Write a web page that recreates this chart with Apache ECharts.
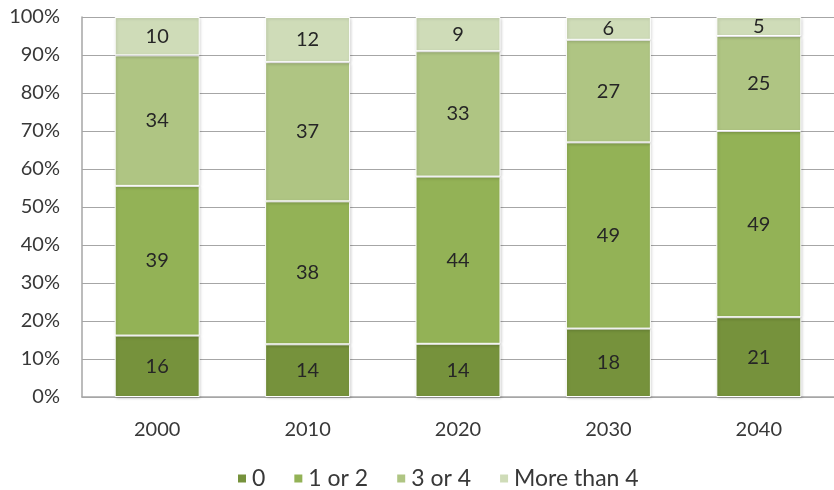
<!DOCTYPE html>
<html>
<head>
<meta charset="utf-8">
<script src="https://cdn.jsdelivr.net/npm/echarts@6/dist/echarts.min.js"></script>
<style>
  html, body { margin: 0; padding: 0; background: #fff; }
  #chart { width: 834px; height: 490px; }
</style>
</head>
<body>
<div id="chart"></div>
<script>
// Household size groups per decade (shares, shown as 100% stacked bars)
const years = ['2000', '2010', '2020', '2030', '2040'];
const seriesNames = ['0', '1 or 2', '3 or 4', 'More than 4'];
const zero = [16, 14, 14, 18, 21];
const oneOrTwo = [39, 38, 44, 49, 49];
const threeOrFour = [34, 37, 33, 27, 25];
const moreThanFour = [10, 12, 9, 6, 5];
const yTicks = ['0%', '10%', '20%', '30%', '40%', '50%', '60%', '70%', '80%', '90%', '100%'];

const colors = ['#76923c', '#93b256', '#afc583', '#cfdcb8'];
const raw = [zero, oneOrTwo, threeOrFour, moreThanFour];

// Column totals for normalising each bar to 100%
const totals = years.map((_, i) => raw.reduce((s, arr) => s + arr[i], 0));

const font = 'Lato, "Open Sans", sans-serif';
const textColor = '#383838';

const series = raw.map((arr, k) => ({
  name: seriesNames[k],
  type: 'bar',
  stack: 'share',
  barWidth: 85,
  data: arr.map((v, i) => ({ value: v / totals[i] * 100, raw: v })),
  itemStyle: {
    color: colors[k],
    borderColor: '#ffffff',
    borderWidth: 1,
    shadowColor: 'rgba(0,0,0,0.18)',
    shadowBlur: 3,
    shadowOffsetX: 1,
    shadowOffsetY: 1
  },
  label: {
    show: true,
    position: 'inside',
    color: '#262626',
    fontFamily: font,
    fontSize: 20,
    formatter: p => String(p.data.raw)
  }
}));

const chart = echarts.init(document.getElementById('chart'));
chart.setOption({
  animation: false,
  color: colors,
  grid: { left: 82, right: -3, top: 17, bottom: 93, containLabel: false },
  legend: {
    bottom: -5,
    left: 231,
    itemWidth: 10,
    itemHeight: 10,
    itemGap: 27,
    itemTextGap: 6,
    icon: 'rect',
    textStyle: { fontFamily: font, fontSize: 23, color: textColor },
    data: seriesNames
  },
  xAxis: {
    type: 'category',
    data: years,
    axisLine: { lineStyle: { color: '#a6a6a6', width: 1.5 } },
    axisTick: { show: false },
    axisLabel: { fontFamily: font, fontSize: 20, color: textColor, margin: 23 }
  },
  yAxis: {
    type: 'value',
    min: 0,
    max: 100,
    interval: 10,
    axisLine: { show: true, lineStyle: { color: '#a6a6a6', width: 1.5 } },
    axisTick: { show: false },
    splitLine: { lineStyle: { color: '#a6a6a6', width: 1.2 } },
    axisLabel: {
      fontFamily: font,
      fontSize: 20,
      color: textColor,
      margin: 22,
      formatter: v => yTicks[Math.round(v / 10)]
    }
  },
  series: series
});
</script>
</body>
</html>
